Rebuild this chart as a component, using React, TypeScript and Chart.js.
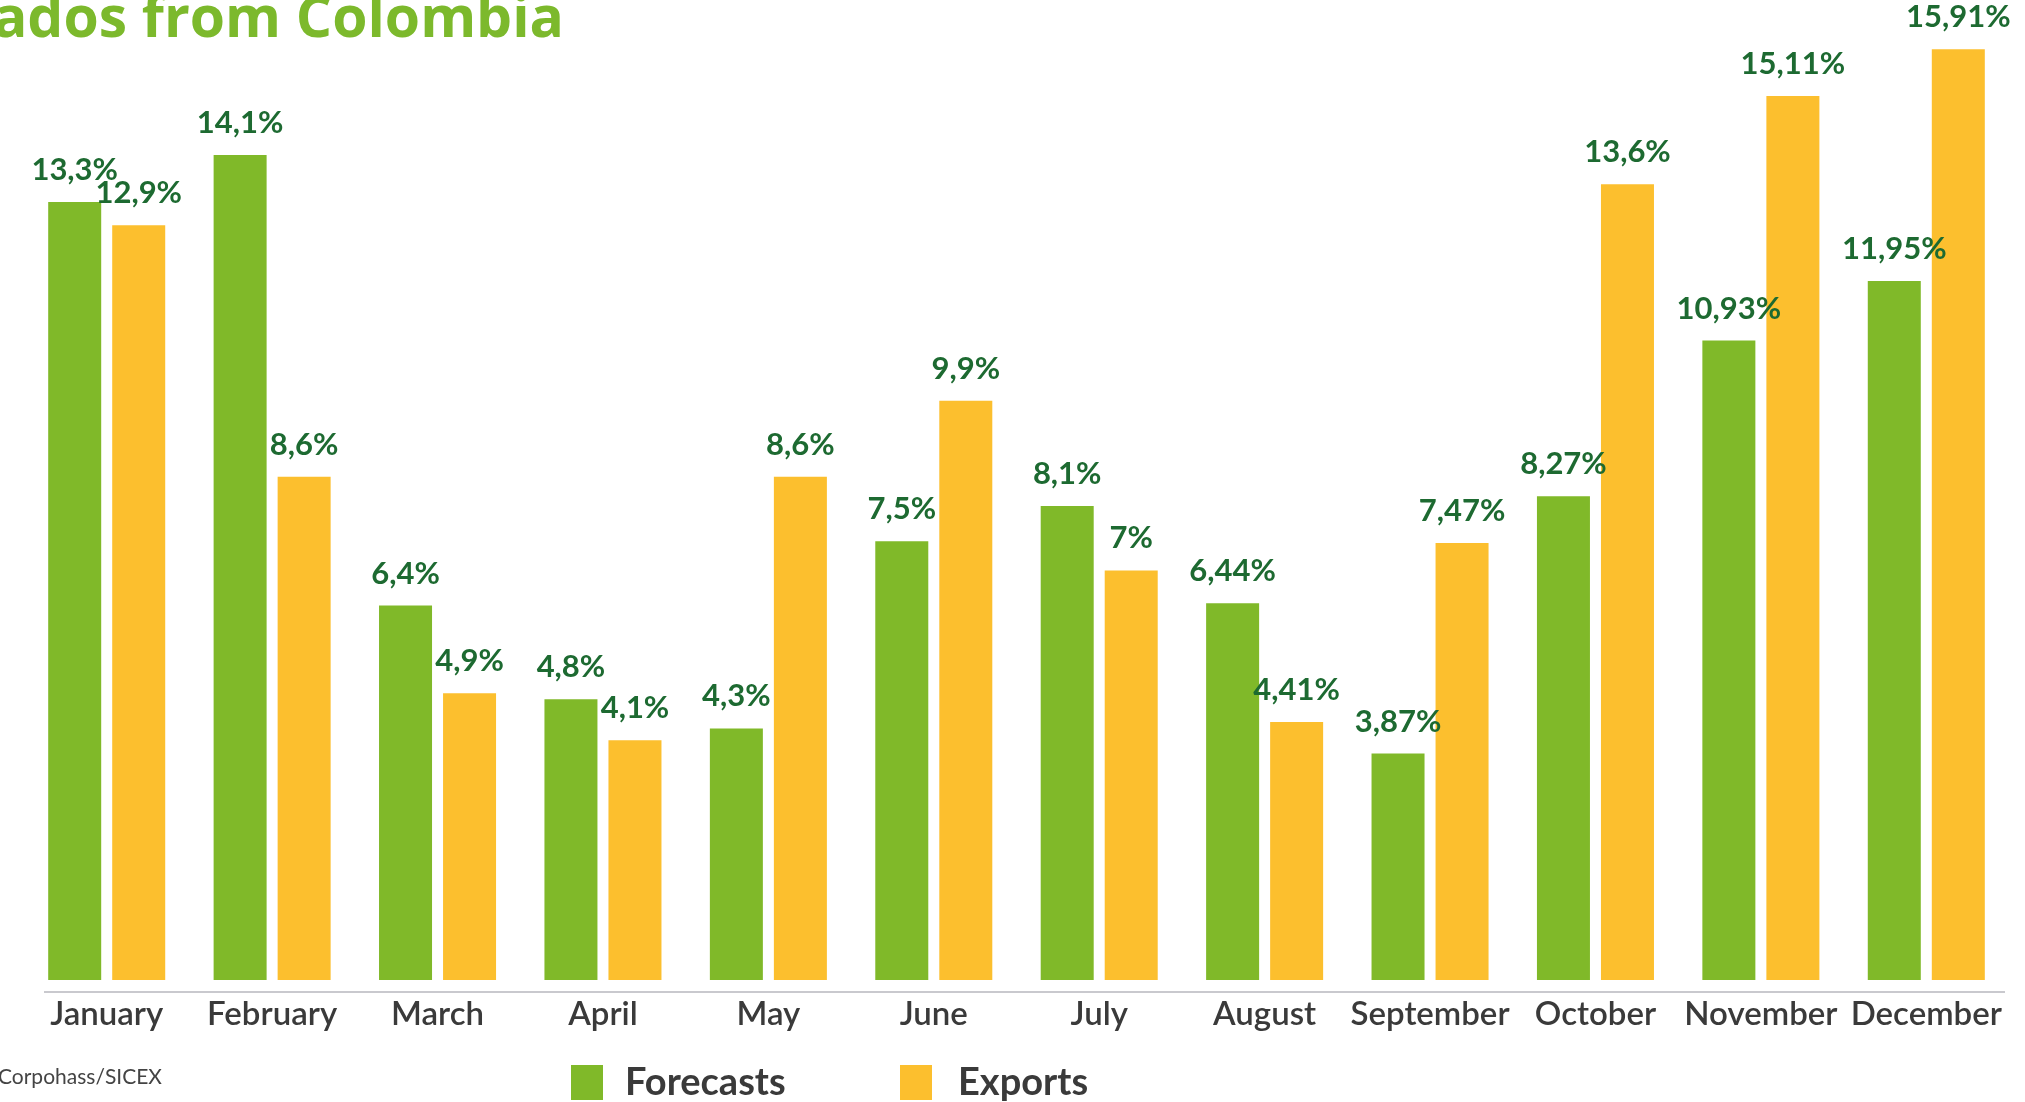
import React, { useEffect, useRef } from "react";
import { Chart, registerables } from "chart.js";

Chart.register(...registerables);

const months = [
  "January", "February", "March", "April", "May", "June",
  "July", "August", "September", "October", "November", "December",
];
const forecasts = [13.3, 14.1, 6.4, 4.8, 4.3, 7.5, 8.1, 6.44, 3.87, 8.27, 10.93, 11.95];
const exportsData = [12.9, 8.6, 4.9, 4.1, 8.6, 9.9, 7, 4.41, 7.47, 13.6, 15.11, 15.91];
const seriesNames = ["Forecasts", "Exports"];
const titleText = "ados from Colombia";
const sourceText = "Corpohass/SICEX";

const GREEN = "#80b929";
const YELLOW = "#fcbf2e";
const LABEL_GREEN = "#1d6a31";
const TEXT_DARK = "#3a3a3a";

const fmt = (v: number) => String(v).replace(".", ",") + "%";

export default function App() {
  const ref = useRef<HTMLCanvasElement | null>(null);

  useEffect(() => {
    const canvas = ref.current;
    if (!canvas) return;

    const axisLine = {
      id: "axisLine",
      beforeDatasetsDraw(chart: any) {
        const ctx = chart.ctx;
        const a = chart.chartArea;
        ctx.save();
        ctx.strokeStyle = "#c9c9ce";
        ctx.lineWidth = 2;
        ctx.beginPath();
        ctx.moveTo(44, a.bottom);
        ctx.lineTo(a.right - 4, a.bottom);
        ctx.stroke();
        ctx.restore();
      },
    };

    const valueLabels = {
      id: "valueLabels",
      afterDatasetsDraw(chart: any) {
        const ctx = chart.ctx;
        ctx.save();
        ctx.font = "bold 31px Lato";
        ctx.fillStyle = LABEL_GREEN;
        ctx.textAlign = "center";
        ctx.textBaseline = "alphabetic";
        chart.data.datasets.forEach((ds: any, di: number) => {
          const meta = chart.getDatasetMeta(di);
          meta.data.forEach((el: any, i: number) => {
            ctx.fillText(fmt(ds.data[i]), el.x, el.y - 22);
          });
        });
        ctx.restore();
      },
    };

    const decorations = {
      id: "decorations",
      afterDraw(chart: any) {
        const ctx = chart.ctx;
        ctx.save();
        // title (cropped at the left edge)
        ctx.font = "bold 57px 'Open Sans'";
        ctx.fillStyle = "#7cb92c";
        ctx.textAlign = "right";
        ctx.textBaseline = "alphabetic";
        ctx.fillText(titleText, 564, 37);
        // source
        ctx.font = "21px Lato";
        ctx.fillStyle = "#444444";
        ctx.textAlign = "left";
        ctx.textBaseline = "middle";
        ctx.fillText(sourceText, -2, 1077);
        // legend
        const items = [
          { sx: 571, tx: 625 },
          { sx: 900, tx: 958 },
        ];
        chart.data.datasets.forEach((ds: any, di: number) => {
          const it = items[di];
          ctx.fillStyle = ds.backgroundColor;
          ctx.fillRect(it.sx, 1065, 32, 35);
          ctx.fillStyle = TEXT_DARK;
          ctx.font = "bold 38px Lato";
          ctx.textBaseline = "middle";
          ctx.fillText(ds.label, it.tx, 1083);
        });
        ctx.restore();
      },
    };

    const chart = new Chart(canvas, {
      type: "bar",
      data: {
        labels: months,
        datasets: [
          { label: seriesNames[0], data: forecasts, backgroundColor: GREEN },
          { label: seriesNames[1], data: exportsData, backgroundColor: YELLOW },
        ],
      },
      options: {
        responsive: false,
        animation: false,
        events: [],
        layout: { padding: { left: 24, right: 16, top: 10, bottom: 0 } },
        datasets: {
          bar: { categoryPercentage: 0.774, barPercentage: 0.828 },
        },
        plugins: {
          legend: { display: false },
          title: { display: false },
          tooltip: { enabled: false },
        },
        scales: {
          x: {
            grid: { display: true, color: "transparent", drawTicks: false },
            border: { display: false },
            ticks: {
              color: TEXT_DARK,
              font: { family: "Lato", size: 33, weight: "600" },
              padding: 3,
              maxRotation: 0,
              autoSkip: false,
            },
            afterFit: (scale: any) => {
              scale.height = 110;
            },
          },
          y: {
            display: false,
            min: -0.205,
            max: 16.58,
          },
        },
      },
      plugins: [axisLine, valueLabels, decorations],
    } as any);

    return () => chart.destroy();
  }, []);

  return (
    <div style={{ position: "fixed", left: 0, top: 0, width: 2025, height: 1102, background: "#ffffff" }}>
      <canvas ref={ref} width={2025} height={1102} style={{ display: "block" }} />
    </div>
  );
}
